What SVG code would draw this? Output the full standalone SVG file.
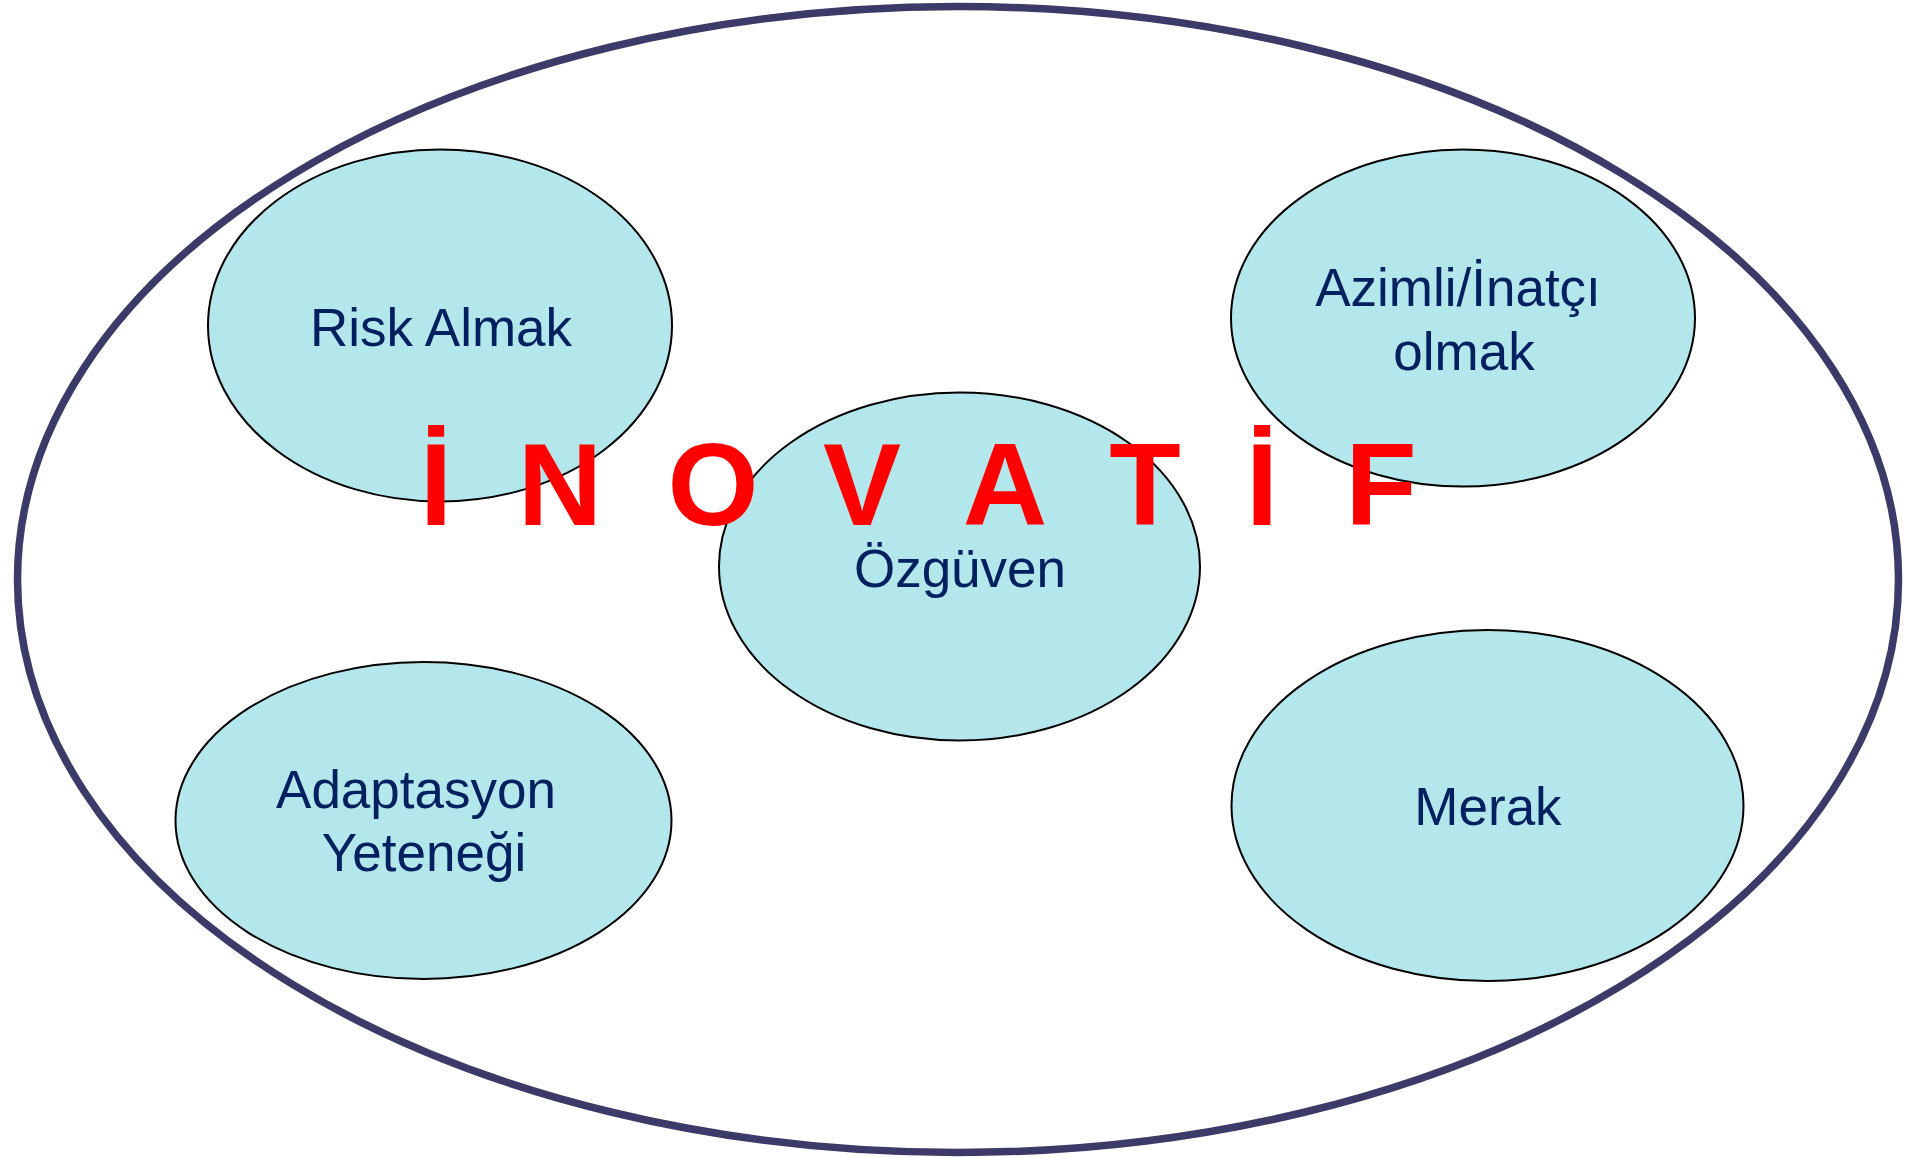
<svg xmlns="http://www.w3.org/2000/svg" width="1905" height="1158" viewBox="0 0 1905 1158">
<style>
.node{fill:#B4E7EB;stroke:#000;stroke-width:2}
.lbl{font-family:"Liberation Sans",Arial,sans-serif;font-size:53px;fill:#002060;text-anchor:middle}
.title{font-family:"Liberation Sans",Arial,sans-serif;font-size:117px;font-weight:bold;fill:#FF0000;text-anchor:middle}
</style>
<rect width="1905" height="1158" fill="#fff"/>
<g id="outer">
<ellipse cx="958" cy="579.5" rx="940.5" ry="573" fill="none" stroke="#3B3A68" stroke-width="7.5"/>
</g>
<g id="connectors"></g>
<g id="risk-almak">
<ellipse class="node" cx="440" cy="325.5" rx="232" ry="176"/>
<text class="lbl" x="441" y="346">Risk Almak</text>
</g>
<g id="azimli">
<ellipse class="node" cx="1463" cy="318" rx="232" ry="168.5"/>
<text class="lbl" x="1458" y="306">Azimli/İnatçı</text>
<text class="lbl" x="1464" y="370">olmak</text>
</g>
<g id="ozguven">
<ellipse class="node" cx="959.5" cy="566.5" rx="240.5" ry="174"/>
<text class="lbl" x="960" y="587">Özgüven</text>
</g>
<g id="adaptasyon">
<ellipse class="node" cx="423.5" cy="820.5" rx="248" ry="158.5"/>
<text class="lbl" x="416" y="808">Adaptasyon</text>
<text class="lbl" x="424" y="871">Yeteneği</text>
</g>
<g id="merak">
<ellipse class="node" cx="1487.5" cy="805.5" rx="256" ry="175.5"/>
<text class="lbl" x="1488" y="825">Merak</text>
</g>
<g id="inovatif">
<text class="title" x="436 560 713 862 1005 1145 1262 1381" y="525">İNOVATİF</text>
</g>
</svg>
